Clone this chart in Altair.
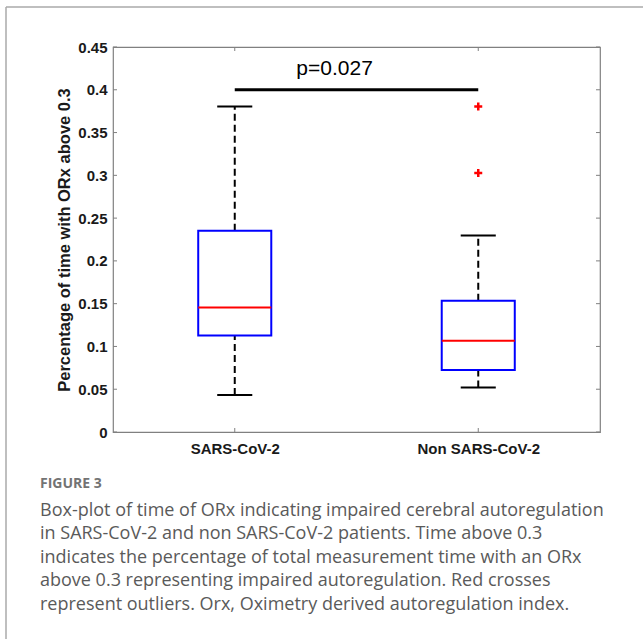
import altair as alt
import pandas as pd

groups = ["SARS-CoV-2", "Non SARS-CoV-2"]
positions = [1, 2]
q1 = [0.1129, 0.0725]
median = [0.1456, 0.1067]
q3 = [0.2353, 0.1535]
whisker_lo = [0.0432, 0.0521]
whisker_hi = [0.3806, 0.2298]
outlier_pos = [2, 2]
outlier_val = [0.3806, 0.3027]
y_ticks = [0, 0.05, 0.1, 0.15, 0.2, 0.25, 0.3, 0.35, 0.4, 0.45]
p_text = "p=0.027"
sig_y = 0.4
caption_head = "FIGURE 3"
caption_lines = [
    "Box-plot of time of ORx indicating impaired cerebral autoregulation",
    "in SARS-CoV-2 and non SARS-CoV-2 patients. Time above 0.3",
    "indicates the percentage of total measurement time with an ORx",
    "above 0.3 representing impaired autoregulation. Red crosses",
    "represent outliers. Orx, Oximetry derived autoregulation index.",
]

W, H = 487, 385
PL, PT = 113, 47

box_df = pd.DataFrame({"group": groups, "pos": positions, "q1": q1, "median": median,
                       "q3": q3, "lo": whisker_lo, "hi": whisker_hi})
out_df = pd.DataFrame({"pos": outlier_pos, "val": outlier_val})
tick_df = pd.DataFrame({"v": y_ticks})
cat_df = pd.DataFrame({"pos": positions})

xs = alt.Scale(domain=[0.5, 2.5], nice=False, zero=False)
ys = alt.Scale(domain=[0, 0.45], nice=False, zero=False)

label_expr = "datum.value == 1 ? '" + groups[0] + "' : (datum.value == 2 ? '" + groups[1] + "' : '')"

base = alt.Chart(box_df)

xaxis = alt.Axis(values=positions, labelExpr=label_expr, ticks=False, domain=False, grid=False,
                 title=None, labelFont="Liberation Sans", labelFontWeight="bold", labelFontSize=15,
                 labelColor="#1a1a1a", labelPadding=9, labelAngle=0)
yaxis = alt.Axis(values=y_ticks, format="~g", ticks=False, domain=False, grid=False,
                 title="Percentage of time with ORx above 0.3", titleFont="Liberation Sans",
                 titleFontWeight="bold", titleFontSize=16.5, titleColor="#1a1a1a", titlePadding=5,
                 labelFont="Liberation Sans", labelFontWeight="bold", labelFontSize=15,
                 labelColor="#1a1a1a", labelPadding=6)

# axis carrier (invisible)
axes = base.mark_point(opacity=0).encode(
    x=alt.X("pos:Q", scale=xs, axis=xaxis),
    y=alt.Y("median:Q", scale=ys, axis=yaxis),
)

# whiskers (dashed)
whisk_up = base.mark_rule(color="black", strokeWidth=2, strokeDash=[7, 4]).encode(
    x="pos:Q", y="q3:Q", y2="hi:Q")
whisk_dn = base.mark_rule(color="black", strokeWidth=2, strokeDash=[7, 4]).encode(
    x="pos:Q", y="lo:Q", y2="q1:Q")

capw = 0.072
caps_hi = base.transform_calculate(a=f"datum.pos - {capw}", b=f"datum.pos + {capw}").mark_rule(
    color="black", strokeWidth=2).encode(x="a:Q", x2="b:Q", y="hi:Q")
caps_lo = base.transform_calculate(a=f"datum.pos - {capw}", b=f"datum.pos + {capw}").mark_rule(
    color="black", strokeWidth=2).encode(x="a:Q", x2="b:Q", y="lo:Q")

bw = 0.15
boxes = base.transform_calculate(a=f"datum.pos - {bw}", b=f"datum.pos + {bw}").mark_rect(
    fill="white", fillOpacity=0, stroke="#0000ff", strokeWidth=2).encode(
    x="a:Q", x2="b:Q", y="q1:Q", y2="q3:Q")
meds = base.transform_calculate(a=f"datum.pos - {bw}", b=f"datum.pos + {bw}").mark_rule(
    color="#ff0000", strokeWidth=2).encode(x="a:Q", x2="b:Q", y="median:Q")

outs = alt.Chart(out_df).mark_point(
    shape="M-1,0L1,0M0,-1L0,1", size=64, stroke="#ff0000", strokeWidth=2.5, filled=False, opacity=1
).encode(x="pos:Q", y="val:Q")

sig_df = pd.DataFrame({"a": [positions[0]], "b": [positions[1]], "y": [sig_y],
                       "tx": [1.41], "ty": [0.4245], "t": [p_text]})
sig = alt.Chart(sig_df).mark_rule(color="black", strokeWidth=3).encode(x="a:Q", x2="b:Q", y="y:Q")
sig_t = alt.Chart(sig_df).mark_text(font="Liberation Sans", fontSize=21, color="black").encode(
    x="tx:Q", y="ty:Q", text="t:N")

# inward ticks
tick_l = alt.Chart(tick_df).mark_rule(color="#808080", strokeWidth=1).encode(
    y=alt.Y("v:Q", scale=ys), x=alt.value(0), x2=alt.value(4))
tick_r = alt.Chart(tick_df).mark_rule(color="#808080", strokeWidth=1).encode(
    y=alt.Y("v:Q", scale=ys), x=alt.value(W - 4), x2=alt.value(W))
tick_t = alt.Chart(cat_df).mark_rule(color="#808080", strokeWidth=1).encode(
    x=alt.X("pos:Q", scale=xs), y=alt.value(0), y2=alt.value(4))
tick_b = alt.Chart(cat_df).mark_rule(color="#808080", strokeWidth=1).encode(
    x=alt.X("pos:Q", scale=xs), y=alt.value(H - 4), y2=alt.value(H))

# card border
border_l = alt.Chart(cat_df.head(1)).mark_rule(color="#aaaaaa", strokeWidth=1.5).encode(
    x=alt.value(6 - PL), y=alt.value(7 - PT), y2=alt.value(639 - PT))
border_t = alt.Chart(cat_df.head(1)).mark_rule(color="#aaaaaa", strokeWidth=1.5).encode(
    y=alt.value(7 - PT), x=alt.value(6 - PL), x2=alt.value(643 - PL))

head = alt.Chart(cat_df.head(1)).mark_text(
    align="left", baseline="middle", font="Open Sans", fontSize=14, fontWeight="bold", color="#737373"
).encode(x=alt.value(40 - PL), y=alt.value(484 - PT), text=alt.value(caption_head))
cap = alt.Chart(cat_df.head(1)).mark_text(
    align="left", baseline="top", font="Open Sans", fontSize=18, color="#5a5a5a", lineHeight=23.4
).encode(x=alt.value(40 - PL), y=alt.value(502 - PT), text=alt.value(caption_lines))

chart = alt.layer(
    axes, border_l, border_t, whisk_up, whisk_dn, caps_hi, caps_lo, boxes, meds, outs, sig, sig_t,
    tick_l, tick_r, tick_t, tick_b, head, cap
).properties(
    width=W, height=H, autosize=alt.AutoSizeParams(type="none"),
    padding={"left": PL, "top": PT, "right": 643 - PL - W, "bottom": 639 - PT - H},
    background="white",
).configure_view(stroke="#808080", strokeWidth=1.2)

chart.save("out.html", embed_options={"renderer": "svg", "actions": False})
